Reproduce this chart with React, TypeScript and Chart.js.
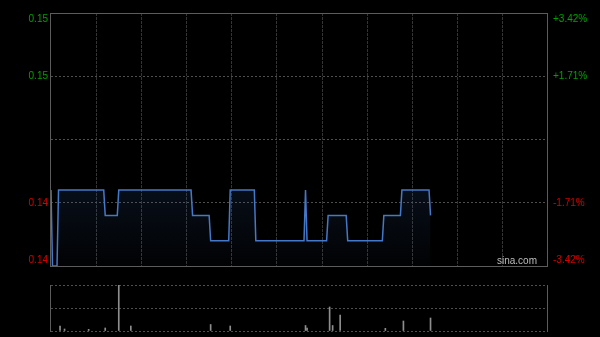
import React, { useEffect, useRef } from 'react';
import { Chart, registerables } from 'chart.js';
Chart.register(...registerables);

// ---- data ----
const prevClose = 0.146;
const priceMin = 0.141;
const priceMax = 0.151;
const sessionMinutes = 330; // 09:30-12:00, 13:00-16:00
const timeGridMinutes = [30, 60, 90, 120, 150, 180, 210, 240, 270, 300];

const priceTimes = [0, 1, 4, 5, 35, 36, 44, 45, 93, 94, 105, 106, 118, 119, 135, 136, 168, 169, 170, 183, 184, 196, 197, 220, 221, 232, 233, 251, 252];
const prices = [0.144, 0.141, 0.141, 0.144, 0.144, 0.143, 0.143, 0.144, 0.144, 0.143, 0.143, 0.142, 0.142, 0.144, 0.144, 0.142, 0.142, 0.144, 0.142, 0.142, 0.143, 0.143, 0.142, 0.142, 0.143, 0.143, 0.144, 0.144, 0.143];

const volTimes = [6, 9, 25, 36, 45, 53, 106, 119, 169, 170, 185, 187, 192, 222, 234, 252];
const volumes = [50000, 20000, 17000, 30000, 460000, 50000, 65000, 50000, 55000, 30000, 240000, 55000, 160000, 27000, 100000, 130000];
const volumeMax = 460000;
const volumeTicks = [0, 230000, 460000];

const priceTickValues = [0.141, 0.1435, 0.146, 0.1485, 0.151];
const leftTickLabels = ['0.14', '0.14', '', '0.15', '0.15'];
const rightTickLabels = ['-3.42%', '-1.71%', '', '+1.71%', '+3.42%'];
const watermark = 'sina.com';

// ---- styles ----
const FONT = '10px "Liberation Sans", Arial, sans-serif';
const GREEN = '#00a000';
const RED = '#d40000';
const BOX = '#5c5c5c';
const HGRID = '#4e4e4e';
const VGRID = '#343434';
const LINE = '#4478c8';

const W = 600;
const PRICE_H = 280;
const VOL_TOP = 275;
const VOL_H = 62;

const priceDecor = {
  id: 'priceDecor',
  afterDraw(chart: any) {
    const { ctx, chartArea: ca } = chart;
    const ys = chart.scales.y;
    ctx.save();
    ctx.strokeStyle = BOX;
    ctx.lineWidth = 1;
    ctx.setLineDash([]);
    ctx.strokeRect(ca.left - 0.5, ca.top + 0.5, ca.right - ca.left, ca.bottom - ca.top);
    ctx.font = FONT;
    ctx.textBaseline = 'middle';
    priceTickValues.forEach((v, i) => {
      if (!leftTickLabels[i]) return;
      let py = ys.getPixelForValue(v);
      if (py < ca.top + 6) py = ca.top + 6;
      if (py > ca.bottom - 6) py = ca.bottom - 6;
      ctx.fillStyle = v > prevClose ? GREEN : RED;
      ctx.textAlign = 'right';
      ctx.fillText(leftTickLabels[i], ca.left - 3, py);
      ctx.textAlign = 'left';
      ctx.fillText(rightTickLabels[i], ca.right + 5, py);
    });
    ctx.fillStyle = '#bdbdbd';
    ctx.textAlign = 'right';
    ctx.fillText(watermark, ca.right - 11, ca.bottom - 4.5);
    ctx.restore();
  },
};

const volDecor = {
  id: 'volDecor',
  afterDraw(chart: any) {
    const { ctx, chartArea: ca } = chart;
    ctx.save();
    ctx.strokeStyle = BOX;
    ctx.lineWidth = 1;
    ctx.beginPath();
    ctx.moveTo(ca.left - 0.5, ca.top);
    ctx.lineTo(ca.left - 0.5, ca.bottom + 1);
    ctx.moveTo(ca.right - 0.5, ca.top);
    ctx.lineTo(ca.right - 0.5, ca.bottom + 1);
    ctx.stroke();
    ctx.restore();
  },
};

export default function App() {
  const priceRef = useRef<HTMLCanvasElement | null>(null);
  const volRef = useRef<HTMLCanvasElement | null>(null);

  useEffect(() => {
    const pc = new Chart(priceRef.current as HTMLCanvasElement, {
      type: 'line',
      data: {
        datasets: [
          {
            data: priceTimes.map((t, i) => ({ x: t, y: prices[i] })),
            borderColor: LINE,
            borderWidth: 1.5,
            pointRadius: 0,
            tension: 0,
            fill: 'start',
            backgroundColor: (c: any) => {
              const chart = c.chart;
              const ca = chart.chartArea;
              if (!ca) return 'rgba(0,0,0,0)';
              const g = chart.ctx.createLinearGradient(0, ca.top, 0, ca.bottom);
              g.addColorStop(0, 'rgba(60,110,190,0.28)');
              g.addColorStop(0.7, 'rgba(60,110,190,0.13)');
              g.addColorStop(1, 'rgba(60,110,190,0.02)');
              return g;
            },
          },
        ],
      },
      options: {
        animation: false,
        responsive: false,
        events: [],
        layout: { padding: { top: 13, bottom: PRICE_H - 266, left: 0, right: 52 } },
        plugins: { legend: { display: false }, tooltip: { enabled: false } },
        scales: {
          x: {
            type: 'linear',
            min: 0,
            max: sessionMinutes,
            afterBuildTicks: (s: any) => {
              s.ticks = timeGridMinutes.map((v) => ({ value: v }));
            },
            afterFit: (s: any) => {
              s.height = 0;
            },
            ticks: { display: false },
            grid: { color: VGRID, lineWidth: 1, drawTicks: false },
            border: { display: false, dash: [3, 1] },
          },
          y: {
            type: 'linear',
            min: priceMin,
            max: priceMax,
            afterBuildTicks: (s: any) => {
              s.ticks = priceTickValues.slice(1, -1).map((v) => ({ value: v }));
            },
            afterFit: (s: any) => {
              s.width = 51;
            },
            ticks: { display: false },
            grid: { color: HGRID, lineWidth: 1, drawTicks: false },
            border: { display: false, dash: [2, 2] },
          },
        },
      },
      plugins: [priceDecor],
    } as any);

    const vc = new Chart(volRef.current as HTMLCanvasElement, {
      type: 'bar',
      data: {
        datasets: [
          {
            data: volTimes.map((t, i) => ({ x: t, y: volumes[i] })),
            backgroundColor: '#8e8e8e',
            barThickness: 1,
            borderWidth: 0,
          },
        ],
      },
      options: {
        animation: false,
        responsive: false,
        events: [],
        layout: { padding: { top: 10, bottom: VOL_H - 56, left: 0, right: 52 } },
        plugins: { legend: { display: false }, tooltip: { enabled: false } },
        scales: {
          x: {
            type: 'linear',
            min: 0,
            max: sessionMinutes,
            offset: false,
            afterFit: (s: any) => {
              s.height = 0;
            },
            ticks: { display: false },
            grid: { display: false },
            border: { display: false },
          },
          y: {
            type: 'linear',
            min: 0,
            max: volumeMax,
            afterBuildTicks: (s: any) => {
              s.ticks = volumeTicks.map((v) => ({ value: v }));
            },
            afterFit: (s: any) => {
              s.width = 51;
            },
            ticks: { display: false },
            grid: { color: HGRID, lineWidth: 1, drawTicks: false },
            border: { display: false, dash: [2, 2] },
          },
        },
      },
      plugins: [volDecor],
    } as any);

    return () => {
      pc.destroy();
      vc.destroy();
    };
  }, []);

  return (
    <div style={{ position: 'fixed', left: 0, top: 0, width: W, height: 337, background: '#000', overflow: 'hidden' }}>
      <canvas ref={priceRef} width={W} height={PRICE_H} style={{ position: 'absolute', left: 0, top: 0, width: W, height: PRICE_H }} />
      <canvas ref={volRef} width={W} height={VOL_H} style={{ position: 'absolute', left: 0, top: VOL_TOP, width: W, height: VOL_H }} />
    </div>
  );
}
